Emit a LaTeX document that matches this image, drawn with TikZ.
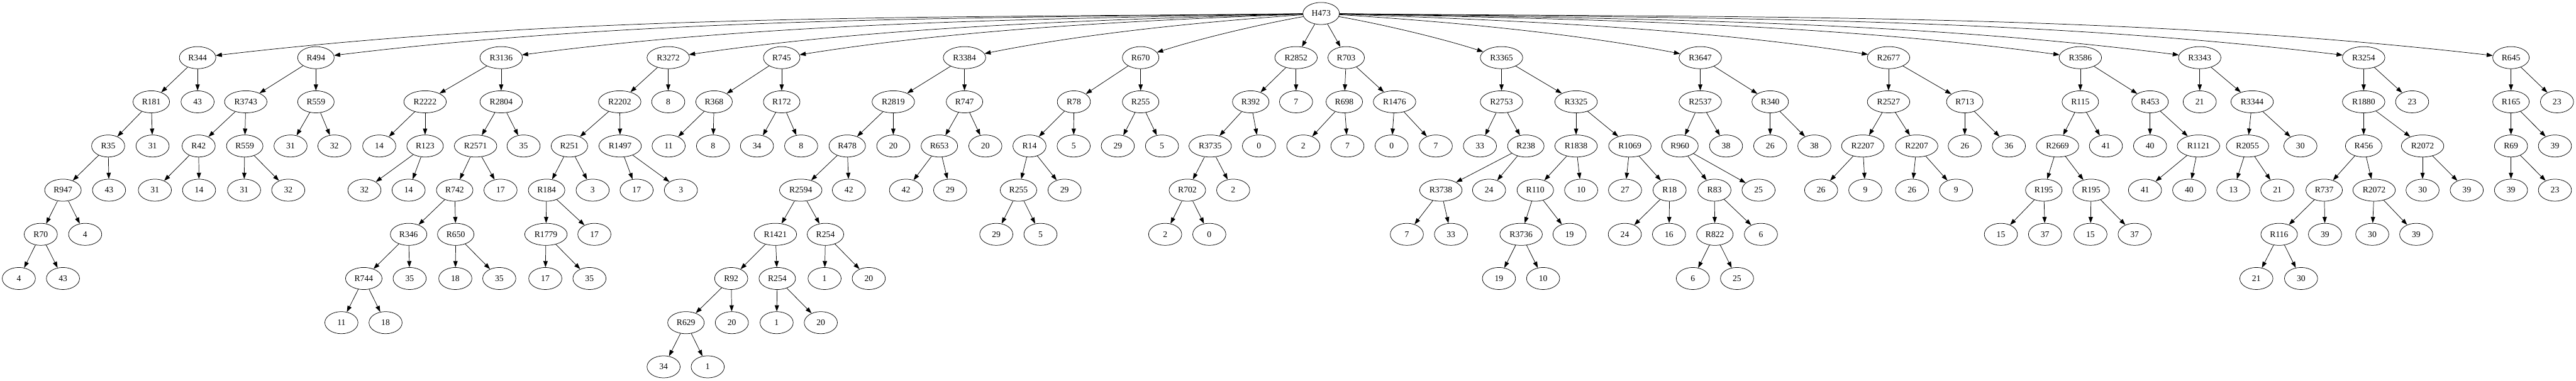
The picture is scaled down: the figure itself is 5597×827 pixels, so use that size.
\documentclass[tikz,border=0pt]{standalone}
\usepackage{fontspec}
\setmainfont{Liberation Serif}
\usetikzlibrary{shapes.geometric,arrows.meta}
\tikzset{
  nd/.style={draw, ellipse, line width=0.75pt, minimum height=36pt, minimum width=54pt, inner sep=0pt, font=\fontsize{14}{16}\selectfont},
  w3/.style={nd, minimum width=59.5pt},
  w4/.style={nd, minimum width=69.2pt},
  conn/.style={draw, line width=0.75pt, -{Triangle[length=10pt,width=7pt]}}
}
\begin{document}
\begin{tikzpicture}[x=0.75pt,y=-0.75pt]
\useasboundingbox (0,0) rectangle (5597,827);
% rank 0
\node[w3] (h) at (2870.5,29.3) {H473};
% rank 1
\node[w3] (b1) at (429.3,125.3) {R344};
\node[w3] (b2) at (686.4,125.3) {R494};
\node[w4] (b3) at (1088.9,125.3) {R3136};
\node[w4] (b4) at (1451.9,125.3) {R3272};
\node[w3] (b5) at (1698.4,125.3) {R745};
\node[w4] (b6) at (2095.6,125.3) {R3384};
\node[w3] (b7) at (2478.3,125.3) {R670};
\node[w4] (b8) at (2816,125.3) {R2852};
\node[w3] (b9) at (2924.9,125.3) {R703};
\node[w4] (b10) at (3262.4,125.3) {R3365};
\node[w4] (b11) at (3694.2,125.3) {R3647};
\node[w4] (b12) at (4103.3,125.3) {R2677};
\node[w4] (b13) at (4520,125.3) {R3586};
\node[w4] (b14) at (4779.4,125.3) {R3343};
\node[w4] (b15) at (5135.6,125.3) {R3254};
\node[w3] (b16) at (5455.7,125.3) {R645};
% rank 2
\node[w3] (b1a) at (328.7,221.3) {R181};
\node[nd] (b1b) at (429.3,221.3) {43};
\node[w4] (b2a) at (534,221.3) {R3743};
\node[w3] (b2b) at (686.4,221.3) {R559};
\node[w4] (b3a) at (923.6,221.3) {R2222};
\node[w4] (b3b) at (1088.9,221.3) {R2804};
\node[w4] (b4a) at (1346.5,221.3) {R2202};
\node[nd] (b4b) at (1451.9,221.3) {8};
\node[w3] (b5a) at (1551.5,221.3) {R368};
\node[w3] (b5b) at (1698.4,221.3) {R172};
\node[w4] (b6a) at (1940.9,221.3) {R2819};
\node[w3] (b6b) at (2095.6,221.3) {R747};
\node[nd] (b7a) at (2333.2,221.3) {R78};
\node[w3] (b7b) at (2478.3,221.3) {R255};
\node[w3] (b8a) at (2717.5,221.3) {R392};
\node[nd] (b8b) at (2816,221.3) {7};
\node[w3] (b9a) at (2920.8,221.3) {R698};
\node[w4] (b9b) at (3030,221.3) {R1476};
\node[w4] (b10a) at (3262.4,221.3) {R2753};
\node[w4] (b10b) at (3424.4,221.3) {R3325};
\node[w4] (b11a) at (3694.2,221.3) {R2537};
\node[w3] (b11b) at (3846.2,221.3) {R340};
\node[w4] (b12a) at (4103.3,221.3) {R2527};
\node[w3] (b12b) at (4268.9,221.3) {R713};
\node[w3] (b13a) at (4520,221.3) {R115};
\node[w3] (b13b) at (4671.5,221.3) {R453};
\node[nd] (b14a) at (4779.4,221.3) {21};
\node[w4] (b14b) at (4893.3,221.3) {R3344};
\node[w4] (b15a) at (5135.6,221.3) {R1880};
\node[nd] (b15b) at (5240.9,221.3) {23};
\node[w3] (b16a) at (5455.7,221.3) {R165};
\node[nd] (b16b) at (5555.7,221.3) {23};
% rank 3
\node[nd] (b1aa) at (235,317.3) {R35};
\node[nd] (b1ab) at (331.5,317.3) {31};
\node[nd] (b2aa) at (431.6,317.3) {R42};
\node[w3] (b2ab) at (531.7,317.3) {R559};
\node[nd] (b2ba) at (631.3,317.3) {31};
\node[nd] (b2bb) at (726.6,317.3) {32};
\node[nd] (b3aa) at (824,317.3) {14};
\node[w3] (b3ab) at (923.6,317.3) {R123};
\node[w4] (b3ba) at (1033.3,317.3) {R2571};
\node[nd] (b3bb) at (1137.6,317.3) {35};
\node[w3] (b4aa) at (1237.2,317.3) {R251};
\node[w4] (b4ab) at (1347.4,317.3) {R1497};
\node[nd] (b5aa) at (1452.8,317.3) {11};
\node[nd] (b5ab) at (1549.2,317.3) {8};
\node[nd] (b5ba) at (1644.7,317.3) {34};
\node[nd] (b5bb) at (1740.7,317.3) {8};
\node[w3] (b6aa) at (1840.8,317.3) {R478};
\node[nd] (b6ab) at (1940.9,317.3) {20};
\node[w3] (b6ba) at (2041,317.3) {R653};
\node[nd] (b6bb) at (2140.9,317.3) {20};
\node[nd] (b7aa) at (2236.8,317.3) {R14};
\node[nd] (b7ab) at (2332.8,317.3) {5};
\node[nd] (b7ba) at (2428.7,317.3) {29};
\node[nd] (b7bb) at (2524.7,317.3) {5};
\node[w4] (b8aa) at (2629.4,317.3) {R3735};
\node[nd] (b8ab) at (2735.4,317.3) {0};
\node[nd] (b9aa) at (2831.7,317.3) {2};
\node[nd] (b9ab) at (2927.6,317.3) {7};
\node[nd] (b9ba) at (3023.6,317.3) {0};
\node[nd] (b9bb) at (3119.6,317.3) {7};
\node[nd] (b10aa) at (3215.5,317.3) {33};
\node[w3] (b10ab) at (3315.2,317.3) {R238};
\node[w4] (b10ba) at (3424.4,317.3) {R1838};
\node[w4] (b10bb) at (3541.3,317.3) {R1069};
\node[w3] (b11aa) at (3650.1,317.3) {R960};
\node[nd] (b11ab) at (3750.2,317.3) {38};
\node[nd] (b11ba) at (3846.2,317.3) {26};
\node[nd] (b11bb) at (3942.1,317.3) {38};
\node[w4] (b12aa) at (4047.3,317.3) {R2207};
\node[w4] (b12ab) at (4164.4,317.3) {R2207};
\node[nd] (b12ba) at (4268.9,317.3) {26};
\node[nd] (b12bb) at (4364.8,317.3) {36};
\node[w4] (b13aa) at (4470.4,317.3) {R2669};
\node[nd] (b13ab) at (4575.6,317.3) {41};
\node[nd] (b13ba) at (4671.5,317.3) {40};
\node[w4] (b13bb) at (4776.7,317.3) {R1121};
\node[w4] (b14ba) at (4883.2,317.3) {R2055};
\node[nd] (b14bb) at (4998.2,317.3) {30};
\node[w3] (b15aa) at (5135.6,317.3) {R456};
\node[w4] (b15ab) at (5263.6,317.3) {R2072};
\node[nd] (b16aa) at (5455.7,317.3) {R69};
\node[nd] (b16ab) at (5551.2,317.3) {39};
% rank 4
\node[w3] (b1aaa) at (136.8,413.3) {R947};
\node[nd] (b1aab) at (236.9,413.3) {43};
\node[nd] (b2aaa) at (336.5,413.3) {31};
\node[nd] (b2aab) at (432.5,413.3) {14};
\node[nd] (b2aba) at (530.3,413.3) {31};
\node[nd] (b2abb) at (626.3,413.3) {32};
\node[nd] (b3aba) at (791.8,413.3) {32};
\node[nd] (b3abb) at (887.8,413.3) {14};
\node[w3] (b3baa) at (987.9,413.3) {R742};
\node[nd] (b3bab) at (1087.5,413.3) {17};
\node[w3] (b4aaa) at (1187.6,413.3) {R184};
\node[nd] (b4aab) at (1287.7,413.3) {3};
\node[nd] (b4aba) at (1383.2,413.3) {17};
\node[nd] (b4abb) at (1479.4,413.3) {3};
\node[w4] (b6aaa) at (1739.8,413.3) {R2594};
\node[nd] (b6aab) at (1844.4,413.3) {42};
\node[nd] (b6baa) at (1968.4,413.3) {42};
\node[nd] (b6bab) at (2064.4,413.3) {29};
\node[w3] (b7aaa) at (2212.9,413.3) {R255};
\node[nd] (b7aab) at (2313,413.3) {29};
\node[w3] (b8aaa) at (2579.8,413.3) {R702};
\node[nd] (b8aab) at (2679.4,413.3) {2};
\node[w4] (b10aba) at (3130.6,413.3) {R3738};
\node[nd] (b10abb) at (3235.3,413.3) {24};
\node[w3] (b10baa) at (3335.8,413.3) {R110};
\node[nd] (b10bab) at (3435.4,413.3) {10};
\node[nd] (b10bba) at (3530.8,413.3) {27};
\node[nd] (b10bbb) at (3627.6,413.3) {R18};
\node[nd] (b11aaa) at (3725,413.3) {R83};
\node[nd] (b11aab) at (3820.9,413.3) {25};
\node[nd] (b12aaa) at (3956.8,413.3) {26};
\node[nd] (b12aab) at (4052.8,413.3) {9};
\node[nd] (b12aba) at (4154.3,413.3) {26};
\node[nd] (b12abb) at (4250,413.3) {9};
\node[w3] (b13aaa) at (4440.6,413.3) {R195};
\node[w3] (b13aab) at (4543.4,413.3) {R195};
\node[nd] (b13bba) at (4660.5,413.3) {41};
\node[nd] (b13bbb) at (4756.5,413.3) {40};
\node[nd] (b14baa) at (4852.4,413.3) {13};
\node[nd] (b14bab) at (4948,413.3) {21};
\node[w3] (b15aaa) at (5049.8,413.3) {R737};
\node[w4] (b15aab) at (5158.3,413.3) {R2072};
\node[nd] (b15aba) at (5263.6,413.3) {30};
\node[nd] (b15abb) at (5359.6,413.3) {39};
\node[nd] (b16aaa) at (5455.7,413.3) {39};
\node[nd] (b16aab) at (5551.2,413.3) {23};
% rank 5
\node[nd] (b1aaaa) at (88.6,509.3) {R70};
\node[nd] (b1aaab) at (185,509.3) {4};
\node[w3] (b3baaa) at (887.8,509.3) {R346};
\node[w3] (b3baab) at (990.2,509.3) {R650};
\node[w4] (b4aaaa) at (1186.2,509.3) {R1779};
\node[nd] (b4aaab) at (1291.4,509.3) {17};
\node[w4] (b6aaaa) at (1684.7,509.3) {R1421};
\node[w3] (b6aaab) at (1793.5,509.3) {R254};
\node[nd] (b7aaaa) at (2164.7,509.3) {29};
\node[nd] (b7aaab) at (2260.7,509.3) {5};
\node[nd] (b8aaaa) at (2531.6,509.3) {2};
\node[nd] (b8aaab) at (2627.5,509.3) {0};
\node[nd] (b10abaa) at (3056.7,509.3) {7};
\node[nd] (b10abab) at (3152.6,509.3) {33};
\node[w4] (b10baaa) at (3305,509.3) {R3736};
\node[nd] (b10baab) at (3410.2,509.3) {19};
\node[nd] (b10bbba) at (3530.3,509.3) {24};
\node[nd] (b10bbbb) at (3626.3,509.3) {16};
\node[w3] (b11aaaa) at (3725.9,509.3) {R822};
\node[nd] (b11aaab) at (3826,509.3) {6};
\node[nd] (b13aaaa) at (4347.4,509.3) {15};
\node[nd] (b13aaab) at (4443.3,509.3) {37};
\node[nd] (b13aaba) at (4542,509.3) {15};
\node[nd] (b13aabb) at (4638,509.3) {37};
\node[w3] (b15aaaa) at (4952,509.3) {R116};
\node[nd] (b15aaab) at (5051.6,509.3) {39};
\node[nd] (b15aaba) at (5154.3,509.3) {30};
\node[nd] (b15aabb) at (5249.8,509.3) {39};
% rank 6
\node[nd] (b1aaaaa) at (40.9,605.3) {4};
\node[nd] (b1aaaab) at (136.8,605.3) {43};
\node[w3] (b3baaaa) at (790.4,605.3) {R744};
\node[nd] (b3baaab) at (890.1,605.3) {35};
\node[nd] (b3baaba) at (989.3,605.3) {18};
\node[nd] (b3baabb) at (1084.8,605.3) {35};
\node[nd] (b4aaaaa) at (1184.8,605.3) {17};
\node[nd] (b4aaaab) at (1280.8,605.3) {35};
\node[nd] (b6aaaaa) at (1588.7,605.3) {R92};
\node[w3] (b6aaaab) at (1688.8,605.3) {R254};
\node[nd] (b6aaaba) at (1791.6,605.3) {1};
\node[nd] (b6aaabb) at (1887.6,605.3) {20};
\node[nd] (b10baaaa) at (3256.8,605.3) {19};
\node[nd] (b10baaab) at (3352.8,605.3) {10};
\node[nd] (b11aaaaa) at (3678.1,605.3) {6};
\node[nd] (b11aaaab) at (3774.1,605.3) {25};
\node[nd] (b15aaaaa) at (4902.5,605.3) {21};
\node[nd] (b15aaaab) at (4999.6,605.3) {30};
% rank 7
\node[nd] (b3baaaaa) at (741.8,701.3) {11};
\node[nd] (b3baaaab) at (837.7,701.3) {18};
\node[w3] (b6aaaaaa) at (1490.4,701.3) {R629};
\node[nd] (b6aaaaab) at (1590.1,701.3) {20};
\node[nd] (b6aaaaba) at (1687.4,701.3) {1};
\node[nd] (b6aaaabb) at (1783.4,701.3) {20};
% rank 8
\node[nd] (b6aaaaaaa) at (1441.8,797.3) {34};
\node[nd] (b6aaaaaab) at (1537.7,797.3) {1};
% edges from root
\foreach \n/\x in {b1/429.3,b2/686.4,b3/1088.9,b4/1451.9,b5/1698.4,b6/2095.6,b7/2478.3,b8/2816,b9/2924.9,b10/3262.4,b11/3694.2,b12/4103.3,b13/4520,b14/4779.4,b15/5135.6,b16/5455.7}{
  \pgfmathsetmacro\dx{\x-2870.5}
  \pgfmathsetmacro\adx{abs(\dx)}
  \pgfmathsetmacro\ax{2870.5+\dx/3}
  \pgfmathsetmacro\ay{29.3+32/(1+\adx/1000)}
  \pgfmathsetmacro\bx{2870.5+2*\dx/3}
  \pgfmathsetmacro\by{93.3-0.026*\adx}
  \draw[conn] (h) .. controls (\ax,\ay) and (\bx,\by) .. (\n);
}
% other edges
\foreach \p/\c in {
 b1/b1a,b1/b1b,b1a/b1aa,b1a/b1ab,b1aa/b1aaa,b1aa/b1aab,b1aaa/b1aaaa,b1aaa/b1aaab,b1aaaa/b1aaaaa,b1aaaa/b1aaaab,
 b2/b2a,b2/b2b,b2a/b2aa,b2a/b2ab,b2aa/b2aaa,b2aa/b2aab,b2ab/b2aba,b2ab/b2abb,b2b/b2ba,b2b/b2bb,
 b3/b3a,b3/b3b,b3a/b3aa,b3a/b3ab,b3ab/b3aba,b3ab/b3abb,b3b/b3ba,b3b/b3bb,b3ba/b3baa,b3ba/b3bab,b3baa/b3baaa,b3baa/b3baab,b3baaa/b3baaaa,b3baaa/b3baaab,b3baaaa/b3baaaaa,b3baaaa/b3baaaab,b3baab/b3baaba,b3baab/b3baabb,
 b4/b4a,b4/b4b,b4a/b4aa,b4a/b4ab,b4aa/b4aaa,b4aa/b4aab,b4aaa/b4aaaa,b4aaa/b4aaab,b4aaaa/b4aaaaa,b4aaaa/b4aaaab,b4ab/b4aba,b4ab/b4abb,
 b5/b5a,b5/b5b,b5a/b5aa,b5a/b5ab,b5b/b5ba,b5b/b5bb,
 b6/b6a,b6/b6b,b6a/b6aa,b6a/b6ab,b6aa/b6aaa,b6aa/b6aab,b6aaa/b6aaaa,b6aaa/b6aaab,b6aaaa/b6aaaaa,b6aaaa/b6aaaab,b6aaaaa/b6aaaaaa,b6aaaaa/b6aaaaab,b6aaaaaa/b6aaaaaaa,b6aaaaaa/b6aaaaaab,b6aaaab/b6aaaaba,b6aaaab/b6aaaabb,b6aaab/b6aaaba,b6aaab/b6aaabb,b6b/b6ba,b6b/b6bb,b6ba/b6baa,b6ba/b6bab,
 b7/b7a,b7/b7b,b7a/b7aa,b7a/b7ab,b7aa/b7aaa,b7aa/b7aab,b7aaa/b7aaaa,b7aaa/b7aaab,b7b/b7ba,b7b/b7bb,
 b8/b8a,b8/b8b,b8a/b8aa,b8a/b8ab,b8aa/b8aaa,b8aa/b8aab,b8aaa/b8aaaa,b8aaa/b8aaab,
 b9/b9a,b9/b9b,b9a/b9aa,b9a/b9ab,b9b/b9ba,b9b/b9bb,
 b10/b10a,b10/b10b,b10a/b10aa,b10a/b10ab,b10ab/b10aba,b10ab/b10abb,b10aba/b10abaa,b10aba/b10abab,b10b/b10ba,b10b/b10bb,b10ba/b10baa,b10ba/b10bab,b10baa/b10baaa,b10baa/b10baab,b10baaa/b10baaaa,b10baaa/b10baaab,b10bb/b10bba,b10bb/b10bbb,b10bbb/b10bbba,b10bbb/b10bbbb,
 b11/b11a,b11/b11b,b11a/b11aa,b11a/b11ab,b11aa/b11aaa,b11aa/b11aab,b11aaa/b11aaaa,b11aaa/b11aaab,b11aaaa/b11aaaaa,b11aaaa/b11aaaab,b11b/b11ba,b11b/b11bb,
 b12/b12a,b12/b12b,b12a/b12aa,b12a/b12ab,b12aa/b12aaa,b12aa/b12aab,b12ab/b12aba,b12ab/b12abb,b12b/b12ba,b12b/b12bb,
 b13/b13a,b13/b13b,b13a/b13aa,b13a/b13ab,b13aa/b13aaa,b13aa/b13aab,b13aaa/b13aaaa,b13aaa/b13aaab,b13aab/b13aaba,b13aab/b13aabb,b13b/b13ba,b13b/b13bb,b13bb/b13bba,b13bb/b13bbb,
 b14/b14a,b14/b14b,b14b/b14ba,b14b/b14bb,b14ba/b14baa,b14ba/b14bab,
 b15/b15a,b15/b15b,b15a/b15aa,b15a/b15ab,b15aa/b15aaa,b15aa/b15aab,b15aaa/b15aaaa,b15aaa/b15aaab,b15aaaa/b15aaaaa,b15aaaa/b15aaaab,b15aab/b15aaba,b15aab/b15aabb,b15ab/b15aba,b15ab/b15abb,
 b16/b16a,b16/b16b,b16a/b16aa,b16a/b16ab,b16aa/b16aaa,b16aa/b16aab}{
  \draw[conn] (\p) -- (\c);
}
\end{tikzpicture}
\end{document}
